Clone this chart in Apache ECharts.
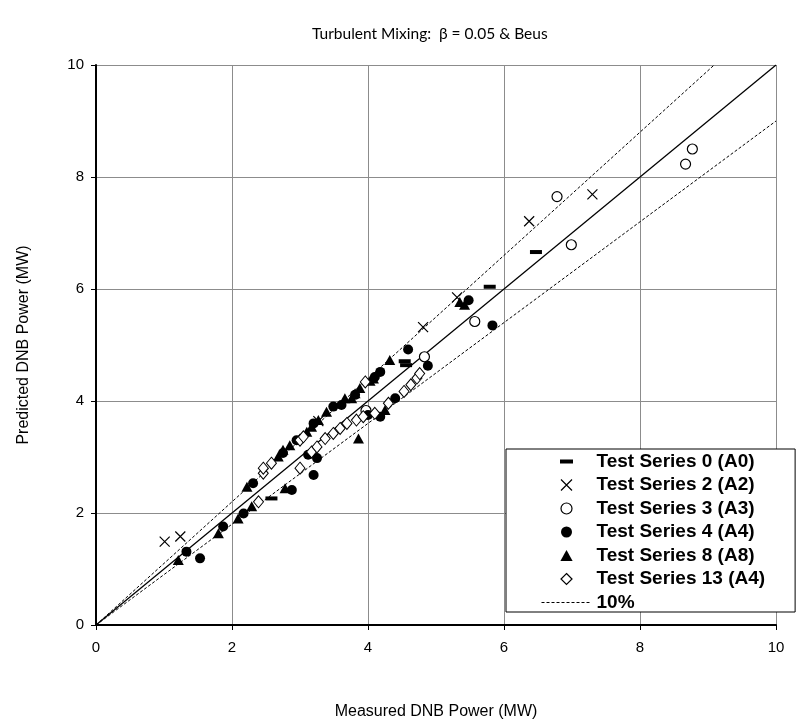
<!DOCTYPE html>
<html><head><meta charset="utf-8">
<script src="https://cdn.jsdelivr.net/npm/echarts@6/dist/echarts.min.js"></script>
<style>html,body{margin:0;padding:0;background:#fff}#c{width:804px;height:726px}</style>
</head><body><div id="c"></div><script>
const titleText = 'Turbulent Mixing:  \u03B2 = 0.05 & Beus';
const xAxisName = 'Measured DNB Power (MW)';
const yAxisName = 'Predicted DNB Power (MW)';
const axisTicks = [0, 2, 4, 6, 8, 10];

const seriesNames = ['Test Series 0 (A0)', 'Test Series 2 (A2)', 'Test Series 3 (A3)', 'Test Series 4 (A4)', 'Test Series 8 (A8)', 'Test Series 13 (A4)'];
const bandName = '10%';

const testSeries0 = [[2.58,2.26],[4.54,4.71],[4.56,4.64],[5.79,6.04],[6.47,6.66]];
const testSeries2 = [[1.01,1.49],[1.24,1.58],[3.27,3.64],[4.81,5.32],[5.31,5.85],[6.37,7.21],[7.30,7.69]];
const testSeries3 = [[3.97,3.83],[4.83,4.79],[5.57,5.42],[6.78,7.65],[6.99,6.79],[8.67,8.23],[8.77,8.50]];
const testSeries4 = [[1.33,1.31],[1.53,1.19],[1.87,1.76],[2.17,1.99],[2.31,2.53],[2.75,3.07],[2.88,2.41],[2.95,3.30],[3.12,3.04],[3.20,2.68],[3.20,3.60],[3.25,2.98],[3.49,3.90],[3.61,3.93],[3.81,4.11],[4.00,3.75],[4.10,4.43],[4.18,3.72],[4.18,4.52],[4.40,4.05],[4.59,4.92],[4.88,4.63],[5.48,5.80],[5.83,5.35]];
const testSeries8 = [[1.21,1.16],[1.80,1.64],[2.09,1.90],[2.22,2.47],[2.29,2.12],[2.68,3.01],[2.75,3.13],[2.78,2.44],[2.85,3.21],[3.10,3.45],[3.17,3.54],[3.27,3.66],[3.39,3.81],[3.66,4.05],[3.76,4.05],[3.81,4.14],[3.86,3.33],[3.88,4.23],[4.03,4.36],[4.08,4.40],[4.25,3.84],[4.32,4.73],[5.35,5.77],[5.42,5.72]];
const testSeries13 = [[2.39,2.20],[2.46,2.71],[2.46,2.80],[2.58,2.89],[3.00,2.80],[3.00,3.30],[3.05,3.36],[3.17,3.09],[3.25,3.18],[3.37,3.33],[3.49,3.42],[3.59,3.51],[3.69,3.60],[3.83,3.66],[3.93,3.72],[3.96,4.34],[4.10,3.78],[4.30,3.96],[4.53,4.17],[4.63,4.29],[4.72,4.41],[4.76,4.49]];

const oneToOneLine = [[0,0],[10,10]];
const upperBandLine = [[0,0],[9.0909,10]];
const lowerBandLine = [[0,0],[10,9]];

const FONT = "'Liberation Sans', Arial, sans-serif";
const crossPath = 'path://M0,0L10,10M10,0L0,10';

function scatter(name, data, symbol, size, itemStyle, z) {
  itemStyle.opacity = 1;
  return {
    type: 'scatter', name: name, data: data, symbol: symbol, symbolSize: size,
    itemStyle: itemStyle, z: z, silent: true, emphasis: { disabled: true }
  };
}
function refLine(name, data, width, type) {
  return {
    type: 'line', name: name, data: data, symbol: 'none', silent: true, z: 1,
    itemStyle: { color: '#000', opacity: 0 },
    lineStyle: { color: '#000', width: width, type: type, opacity: 1 }, emphasis: { disabled: true }
  };
}

const chart = echarts.init(document.getElementById('c'), null, { renderer: 'canvas' });
chart.setOption({
  animation: false,
  backgroundColor: '#fff',
  title: {
    text: titleText, left: 307, top: 21,
    textStyle: { fontFamily: "Lato, 'Open Sans', sans-serif", fontSize: 15.5, fontWeight: 'normal', color: '#000' }
  },
  grid: { left: 96, right: 28, top: 65, bottom: 101, containLabel: false },
  xAxis: {
    type: 'value', min: axisTicks[0], max: axisTicks[axisTicks.length - 1], interval: axisTicks[1] - axisTicks[0],
    name: xAxisName, nameLocation: 'middle', nameGap: 79,
    nameTextStyle: { fontFamily: FONT, fontSize: 16, color: '#000' },
    axisLine: { onZero: false, lineStyle: { color: '#000', width: 2 } },
    axisTick: { show: true, inside: false, length: 5, lineStyle: { color: '#000', width: 1 } },
    axisLabel: { fontFamily: FONT, fontSize: 15, color: '#000', margin: 15 },
    splitLine: { show: true, lineStyle: { color: '#8c8c8c', width: 1 } }
  },
  yAxis: {
    type: 'value', min: axisTicks[0], max: axisTicks[axisTicks.length - 1], interval: axisTicks[1] - axisTicks[0],
    name: yAxisName, nameLocation: 'middle', nameGap: 64,
    nameTextStyle: { fontFamily: FONT, fontSize: 16, color: '#000' },
    axisLine: { onZero: false, lineStyle: { color: '#000', width: 2 } },
    axisTick: { show: true, inside: false, length: 5, lineStyle: { color: '#000', width: 1 } },
    axisLabel: { fontFamily: FONT, fontSize: 15, color: '#000', margin: 12 },
    splitLine: { show: true, lineStyle: { color: '#8c8c8c', width: 1 } }
  },
  legend: {
    orient: 'vertical', left: 506, top: 449,
    padding: [3, 30, 0, 35],
    itemWidth: 50, itemHeight: 11, itemGap: 4.5,
    selectedMode: false,
    backgroundColor: '#fff', borderColor: '#000', borderWidth: 1, borderRadius: 0,
    textStyle: { fontFamily: FONT, fontSize: 19, fontWeight: 'bold', color: '#000', lineHeight: 19 },
    z: 10,
    data: [
      { name: seriesNames[0], icon: 'path://M0,0M13,11M0,3.5L13,3.5L13,7.5L0,7.5Z', itemStyle: { color: '#000', borderWidth: 0, opacity: 1 } },
      { name: seriesNames[1], icon: 'path://M0,0L10,10M10,0L0,10', itemStyle: { color: 'transparent', borderColor: '#000', borderWidth: 1.2, opacity: 1 } },
      { name: seriesNames[2], icon: 'circle', itemStyle: { color: '#fff', borderColor: '#000', borderWidth: 1.2, opacity: 1 } },
      { name: seriesNames[3], icon: 'circle', itemStyle: { color: '#000', borderWidth: 0, opacity: 1 } },
      { name: seriesNames[4], icon: 'path://M5,0L10,9L0,9Z', itemStyle: { color: '#000', borderWidth: 0, opacity: 1 } },
      { name: seriesNames[5], icon: 'path://M5,0L10,5L5,10L0,5Z', itemStyle: { color: '#fff', borderColor: '#000', borderWidth: 1.2, opacity: 1 } },
      { name: bandName, itemStyle: { color: 'transparent', borderColor: 'transparent', borderWidth: 0, opacity: 0 }, lineStyle: { color: '#000', width: 1, type: [3, 2], opacity: 1 } }
    ]
  },
  series: [
    refLine('1:1', oneToOneLine, 1.3, 'solid'),
    refLine(bandName, upperBandLine, 1, [3, 2]),
    refLine(bandName, lowerBandLine, 1, [3, 2]),
    scatter(seriesNames[0], testSeries0, 'rect', [12, 4], { color: '#000' }, 3),
    scatter(seriesNames[1], testSeries2, crossPath, 10, { color: 'transparent', borderColor: '#000', borderWidth: 1.2 }, 3),
    scatter(seriesNames[2], testSeries3, 'circle', 10, { color: '#fff', borderColor: '#000', borderWidth: 1.2 }, 3),
    scatter(seriesNames[3], testSeries4, 'circle', 10, { color: '#000' }, 3),
    scatter(seriesNames[4], testSeries8, 'triangle', [11, 10], { color: '#000' }, 3),
    scatter(seriesNames[5], testSeries13, 'diamond', [10, 12], { color: '#fff', borderColor: '#000', borderWidth: 1 }, 3)
  ]
});
</script></body></html>
